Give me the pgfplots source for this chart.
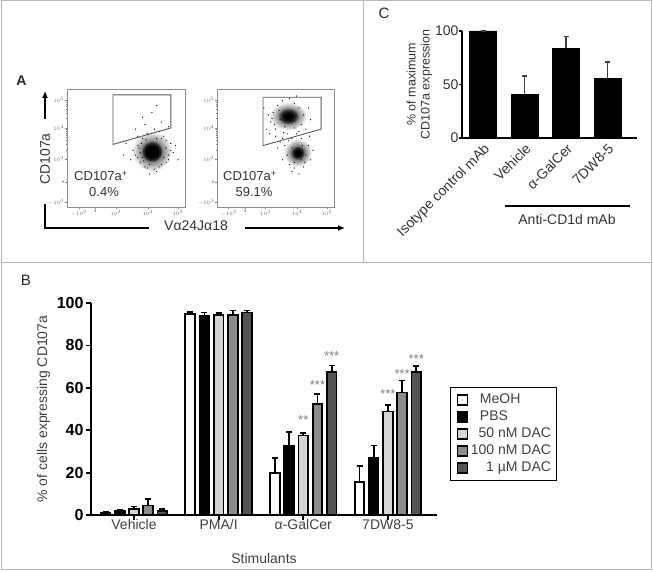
\documentclass[border=0pt]{standalone}
\usepackage{fontspec}
\setmainfont{Liberation Sans}
\usepackage{pgfplots}
\usepackage{pgfplotstable}
\pgfplotsset{compat=1.18, /pgf/number format/assume math mode=true}
\usetikzlibrary{arrows.meta,fadings}
\tikzfading[name=blobfade, inner color=transparent!0, outer color=transparent!100]
\definecolor{framec}{gray}{0.72}
\definecolor{lg}{gray}{0.83}
\definecolor{mg}{gray}{0.55}
\definecolor{dg}{gray}{0.33}
\newcommand\fs[2]{\fontsize{#1}{#2}\selectfont}
\pgfplotsset{
 barB/.style={draw=black, line width=1.8pt, error bars/.cd, y dir=plus, y explicit,
   error bar style={line width=1.8pt, black}, error mark options={rotate=90, mark size=3pt, line width=1.8pt, black}},
 dotax/.style={scale only axis, xmin=0, xmax=100, ymin=0, ymax=100,
   axis line style={black!45, line width=0.8pt},
   xtick={10,24,41.5,68.6,94}, ytick={4.2,21,40.7,67,90.7},
   xticklabels={$-10^3$,\textbf{0},$10^3$,$10^4$,$10^5$},
   yticklabels={$-10^3$,\textbf{0},$10^3$,$10^4$,$10^5$},
   minor xtick={49.3,53.9,57.2,59.7,61.7,63.5,65,66.3,76.4,81,84.3,86.8,88.8,90.6,92.1,93.4},
   minor ytick={48.5,53.1,56.4,58.9,60.9,62.7,64.2,65.5,74.8,79.4,82.7,85.2,87.2,89,90.5},
   tick align=outside, major tick length=2pt, minor tick length=1.2pt,
   tick style={black!50, line width=0.5pt},
   ticklabel style={font=\fs{3.5}{4}, text=black!60, inner sep=0.8pt},
   xtick pos=bottom, ytick pos=left},
 spk/.style={only marks, mark=*, mark size=0.35pt, mark options={draw=none, fill=black!55}},
 blob/.style={fill=black, draw=none, path fading=blobfade},
 legsq/.style={legend image code/.code={\draw[fill=#1,draw=black,line width=1.2pt] (0pt,-5pt) rectangle (10pt,5pt);}},
}
\pgfplotstableread{
x meoh em pbs ep n50 e50 n100 e100 u1 eu
0 1 0.5 1.8 0.6 2.8 1.2 4.5 3.2 2 1
1 95 0.8 94 1.5 94.3 1 94.5 2 95.5 1
2 20 7 32.5 6.5 37.5 1 52.5 4.5 67.5 3
3 15.5 7.8 27 5.8 48.8 3 57.8 5.6 67.6 2.7
}\Bdata
\pgfplotstableread{
x y e
0 100 0
1 41 17
2 84 11
3 55.5 15.5
}\Cdata
\begin{document}
\begin{tikzpicture}
\useasboundingbox (0,0) rectangle (653pt,571pt);
\begin{scope}[x=1pt,y=1pt]
\draw[framec, line width=1pt] (1,1.5) rectangle (651.5,570);
\draw[framec, line width=1pt] (1,308) -- (651.5,308);
\draw[framec, line width=1pt] (363,308) -- (363,570);
\end{scope}

% ---------------- Panel B ----------------
\begin{axis}[
 at={(91pt,56pt)}, anchor=south west, scale only axis, width=346pt, height=212pt,
 xmin=-0.508, xmax=3.58, ymin=0, ymax=100,
 axis x line=bottom, axis y line=left, axis line style={-, line width=1.8pt},
 ybar=4.5pt, bar width=9.7pt,
 xtick={0,1,2,3}, xticklabels={Vehicle,PMA/I,α-GalCer,7DW8-5},
 ytick={0,20,40,60,80,100},
 tick align=outside, major tick length=5pt, tick style={line width=1.8pt, black},
 xticklabel style={font=\fs{14}{16}, text=black!75, yshift=4pt},
 yticklabel style={font=\fs{16}{18}\bfseries, xshift=1pt},
 xlabel={Stimulants}, ylabel={\% of cells expressing CD107a},
 label style={font=\fs{14}{16}, text=black!75},
 xlabel style={yshift=-17pt},
 legend style={at={(1.038,0.604)}, anchor=north west, draw=black, line width=1pt,
   font=\fs{14}{16}, text=black!75, inner xsep=6pt, inner ysep=6pt,
   row sep=4pt, column sep=3pt,
   nodes={font=\fs{14}{16}, text=black!75, inner sep=0pt, text height=10pt, text depth=3pt}},
 legend cell align=right,
 clip=false,
]
\addplot[fill=white, legsq=white, barB] table[x=x,y=meoh,y error=em] {\Bdata};
\addlegendentry{\makebox[71pt][l]{MeOH}}
\addplot[fill=black, legsq=black, barB] table[x=x,y=pbs,y error=ep] {\Bdata};
\addlegendentry{\makebox[71pt][l]{PBS}}
\addplot[fill=lg, legsq=lg, barB] table[x=x,y=n50,y error=e50] {\Bdata};
\addlegendentry{50 nM DAC}
\addplot[fill=mg, legsq=mg, barB] table[x=x,y=n100,y error=e100] {\Bdata};
\addlegendentry{100 nM DAC}
\addplot[fill=dg, legsq=dg, barB] table[x=x,y=u1,y error=eu] {\Bdata};
\addlegendentry{1 µM DAC}
\begin{scope}[every node/.style={font=\fs{13}{14}, text=black!50, anchor=base, inner sep=0pt}]
\node at (axis cs:2,42.9) {**};
\node at (axis cs:2.168,59.4) {***};
\node at (axis cs:2.335,72.8) {***};
\node at (axis cs:3,55.1) {***};
\node at (axis cs:3.168,64.4) {***};
\node at (axis cs:3.335,71.5) {***};
\end{scope}
\end{axis}

% ---------------- Panel C ----------------
\begin{axis}[
 at={(462pt,433pt)}, anchor=south west, scale only axis, width=175pt, height=107pt,
 xmin=-0.506, xmax=3.71, ymin=0, ymax=100,
 axis x line=bottom, axis y line=left, axis line style={-, line width=1.5pt},
 ybar, bar width=27pt,
 xtick={0,1,2,3}, xticklabels={Isotype control mAb,Vehicle,α-GalCer,7DW8-5},
 x tick style={draw=none},
 ytick={0,50,100}, y tick style={line width=1.5pt, black},
 tick align=outside, major tick length=3pt,
 xticklabel style={rotate=45, anchor=north east, font=\fs{14}{16}, text=black!80, inner sep=1pt},
 yticklabel style={font=\fs{14}{16}, text=black!80, xshift=3pt},
 ylabel={\% of maximum\\CD107a expression},
 ylabel style={align=center, font=\fs{12.5}{14}, text=black!80},
 ylabel shift=-4pt,
 clip=false,
]
\addplot[fill=black, draw=black, error bars/.cd, y dir=plus, y explicit,
  error bar style={line width=1.5pt, black!75}, error mark options={rotate=90, mark size=2.5pt, line width=1.5pt, black!75}]
  table[x=x,y=y,y error=e] {\Cdata};
\end{axis}

% ---------------- Panel A ----------------
\begin{axis}[dotax, at={(67pt,364pt)}, anchor=south west, width=118pt, height=118pt]
\addplot[spk] coordinates {(58,44)(60,52)(62,38)(64,58)(66,34)(84,50)(86,44)(82,60)(80,36)(88,54)(76,30)(70,28)(56,48)(90,46)(78,64)(68,62)(74,66)(62,46)(84,38)(60,60)(54,40)(92,52)(66,70)(80,72)(72,80)(76,86)(64,76)(58,66)(86,68)(50,54)(48,44)(94,40)(70,36)(82,42)(64,42)(76,58)(61,50)(63,54)(65,39)(67,57)(78,34)(80,58)(84,56)(86,40)(74,32)(68,33)(60,42)(88,48)};
\addplot[blob] coordinates {(89,47)(86.7,55.5)(80.5,61.7)(72,64)(63.5,61.7)(57.3,55.5)(55,47)(57.3,38.5)(63.5,32.3)(72,30)(80.5,32.3)(86.7,38.5)(89,47)};
\addplot[blob] coordinates {(81,47)(79.8,51.5)(76.5,54.8)(72,56)(67.5,54.8)(64.2,51.5)(63,47)(64.2,42.5)(67.5,39.2)(72,38)(76.5,39.2)(79.8,42.5)(81,47)};
\addplot[blob] coordinates {(81,47)(79.8,51.5)(76.5,54.8)(72,56)(67.5,54.8)(64.2,51.5)(63,47)(64.2,42.5)(67.5,39.2)(72,38)(76.5,39.2)(79.8,42.5)(81,47)};
\addplot[blob] coordinates {(81,47)(79.8,51.5)(76.5,54.8)(72,56)(67.5,54.8)(64.2,51.5)(63,47)(64.2,42.5)(67.5,39.2)(72,38)(76.5,39.2)(79.8,42.5)(81,47)};
\addplot[blob] coordinates {(81,47)(79.8,51.5)(76.5,54.8)(72,56)(67.5,54.8)(64.2,51.5)(63,47)(64.2,42.5)(67.5,39.2)(72,38)(76.5,39.2)(79.8,42.5)(81,47)};
\addplot[blob] coordinates {(78,47)(77.2,50)(75,52.2)(72,53)(69,52.2)(66.8,50)(66,47)(66.8,44)(69,41.8)(72,41)(75,41.8)(77.2,44)(78,47)};
\addplot[black!65, line width=0.9pt] coordinates {(39,95) (88,95) (88,67) (39,53) (39,95)};
\end{axis}

\begin{axis}[dotax, at={(217pt,364pt)}, anchor=south west, width=117pt, height=118pt]
\addplot[spk] coordinates {(46,72)(48,80)(50,66)(52,86)(54,74)(56,90)(58,68)(66,88)(70,84)(72,70)(74,78)(76,66)(44,78)(50,60)(56,58)(60,62)(64,58)(68,62)(72,58)(58,52)(60,44)(62,36)(64,30)(66,38)(74,34)(76,44)(78,52)(80,40)(70,28)(72,40)(82,48)(56,40)(52,50)(68,94)(62,92)(42,66)(40,84)(78,84)(80,74)(47,75)(49,70)(53,82)(57,63)(66,67)(70,64)(73,52)(64,50)(75,38)(66,33)(61,56)(79,60)(54,55)(45,62)};
\addplot[blob] coordinates {(77,77)(74.9,83)(69,87.4)(61,89)(53,87.4)(47.1,83)(45,77)(47.1,71)(53,66.6)(61,65)(69,66.6)(74.9,71)(77,77)};
\addplot[blob] coordinates {(70,77)(68.8,80.5)(65.5,83.1)(61,84)(56.5,83.1)(53.2,80.5)(52,77)(53.2,73.5)(56.5,70.9)(61,70)(65.5,70.9)(68.8,73.5)(70,77)};
\addplot[blob] coordinates {(70,77)(68.8,80.5)(65.5,83.1)(61,84)(56.5,83.1)(53.2,80.5)(52,77)(53.2,73.5)(56.5,70.9)(61,70)(65.5,70.9)(68.8,73.5)(70,77)};
\addplot[blob] coordinates {(81,46)(79.4,52)(75,56.4)(69,58)(63,56.4)(58.6,52)(57,46)(58.6,40)(63,35.6)(69,34)(75,35.6)(79.4,40)(81,46)};
\addplot[blob] coordinates {(75,46)(74.2,49)(72,51.2)(69,52)(66,51.2)(63.8,49)(63,46)(63.8,43)(66,40.8)(69,40)(72,40.8)(74.2,43)(75,46)};
\addplot[blob] coordinates {(75,46)(74.2,49)(72,51.2)(69,52)(66,51.2)(63.8,49)(63,46)(63.8,43)(66,40.8)(69,40)(72,40.8)(74.2,43)(75,46)};
\addplot[black!65, line width=0.9pt] coordinates {(39.3,93) (89,93) (89,66) (39.3,52) (39.3,93)};
\end{axis}

\begin{scope}[x=1pt,y=1pt]
% panel letters
\node[font=\fs{14}{16}\bfseries, text=black!85] at (21.5,490) {A};
\node[font=\fs{15}{17}, text=black!85] at (26,290.5) {B};
\node[font=\fs{15}{17}, text=black!85] at (384,558) {C};
% panel A annotations
\node[font=\fs{13}{15}, text=black!80] at (101,395) {CD107a\textsuperscript{+}};
\node[font=\fs{13}{15}, text=black!80] at (104,379) {0.4\%};
\node[font=\fs{13}{15}, text=black!80] at (250,395) {CD107a\textsuperscript{+}};
\node[font=\fs{13}{15}, text=black!80] at (254,379) {59.1\%};
\node[font=\fs{14}{16}, text=black!80, rotate=90] at (45,412) {CD107a};
\draw[line width=1.4pt, -{Latex[length=7pt,width=6pt]}] (45,452) -- (45,480);
\draw[line width=1.4pt] (45,367) -- (45,343) -- (149,343);
\node[font=\fs{14}{16}, text=black!80] at (196,345) {Vα24Jα18};
\draw[line width=1.4pt, -{Latex[length=7pt,width=6pt]}] (245,343) -- (345,343);
% panel C bracket
\draw[line width=2pt] (505,365) -- (630,365);
\node[font=\fs{14}{16}, text=black!80] at (567,352) {Anti-CD1d mAb};
\end{scope}
\end{tikzpicture}
\end{document}
